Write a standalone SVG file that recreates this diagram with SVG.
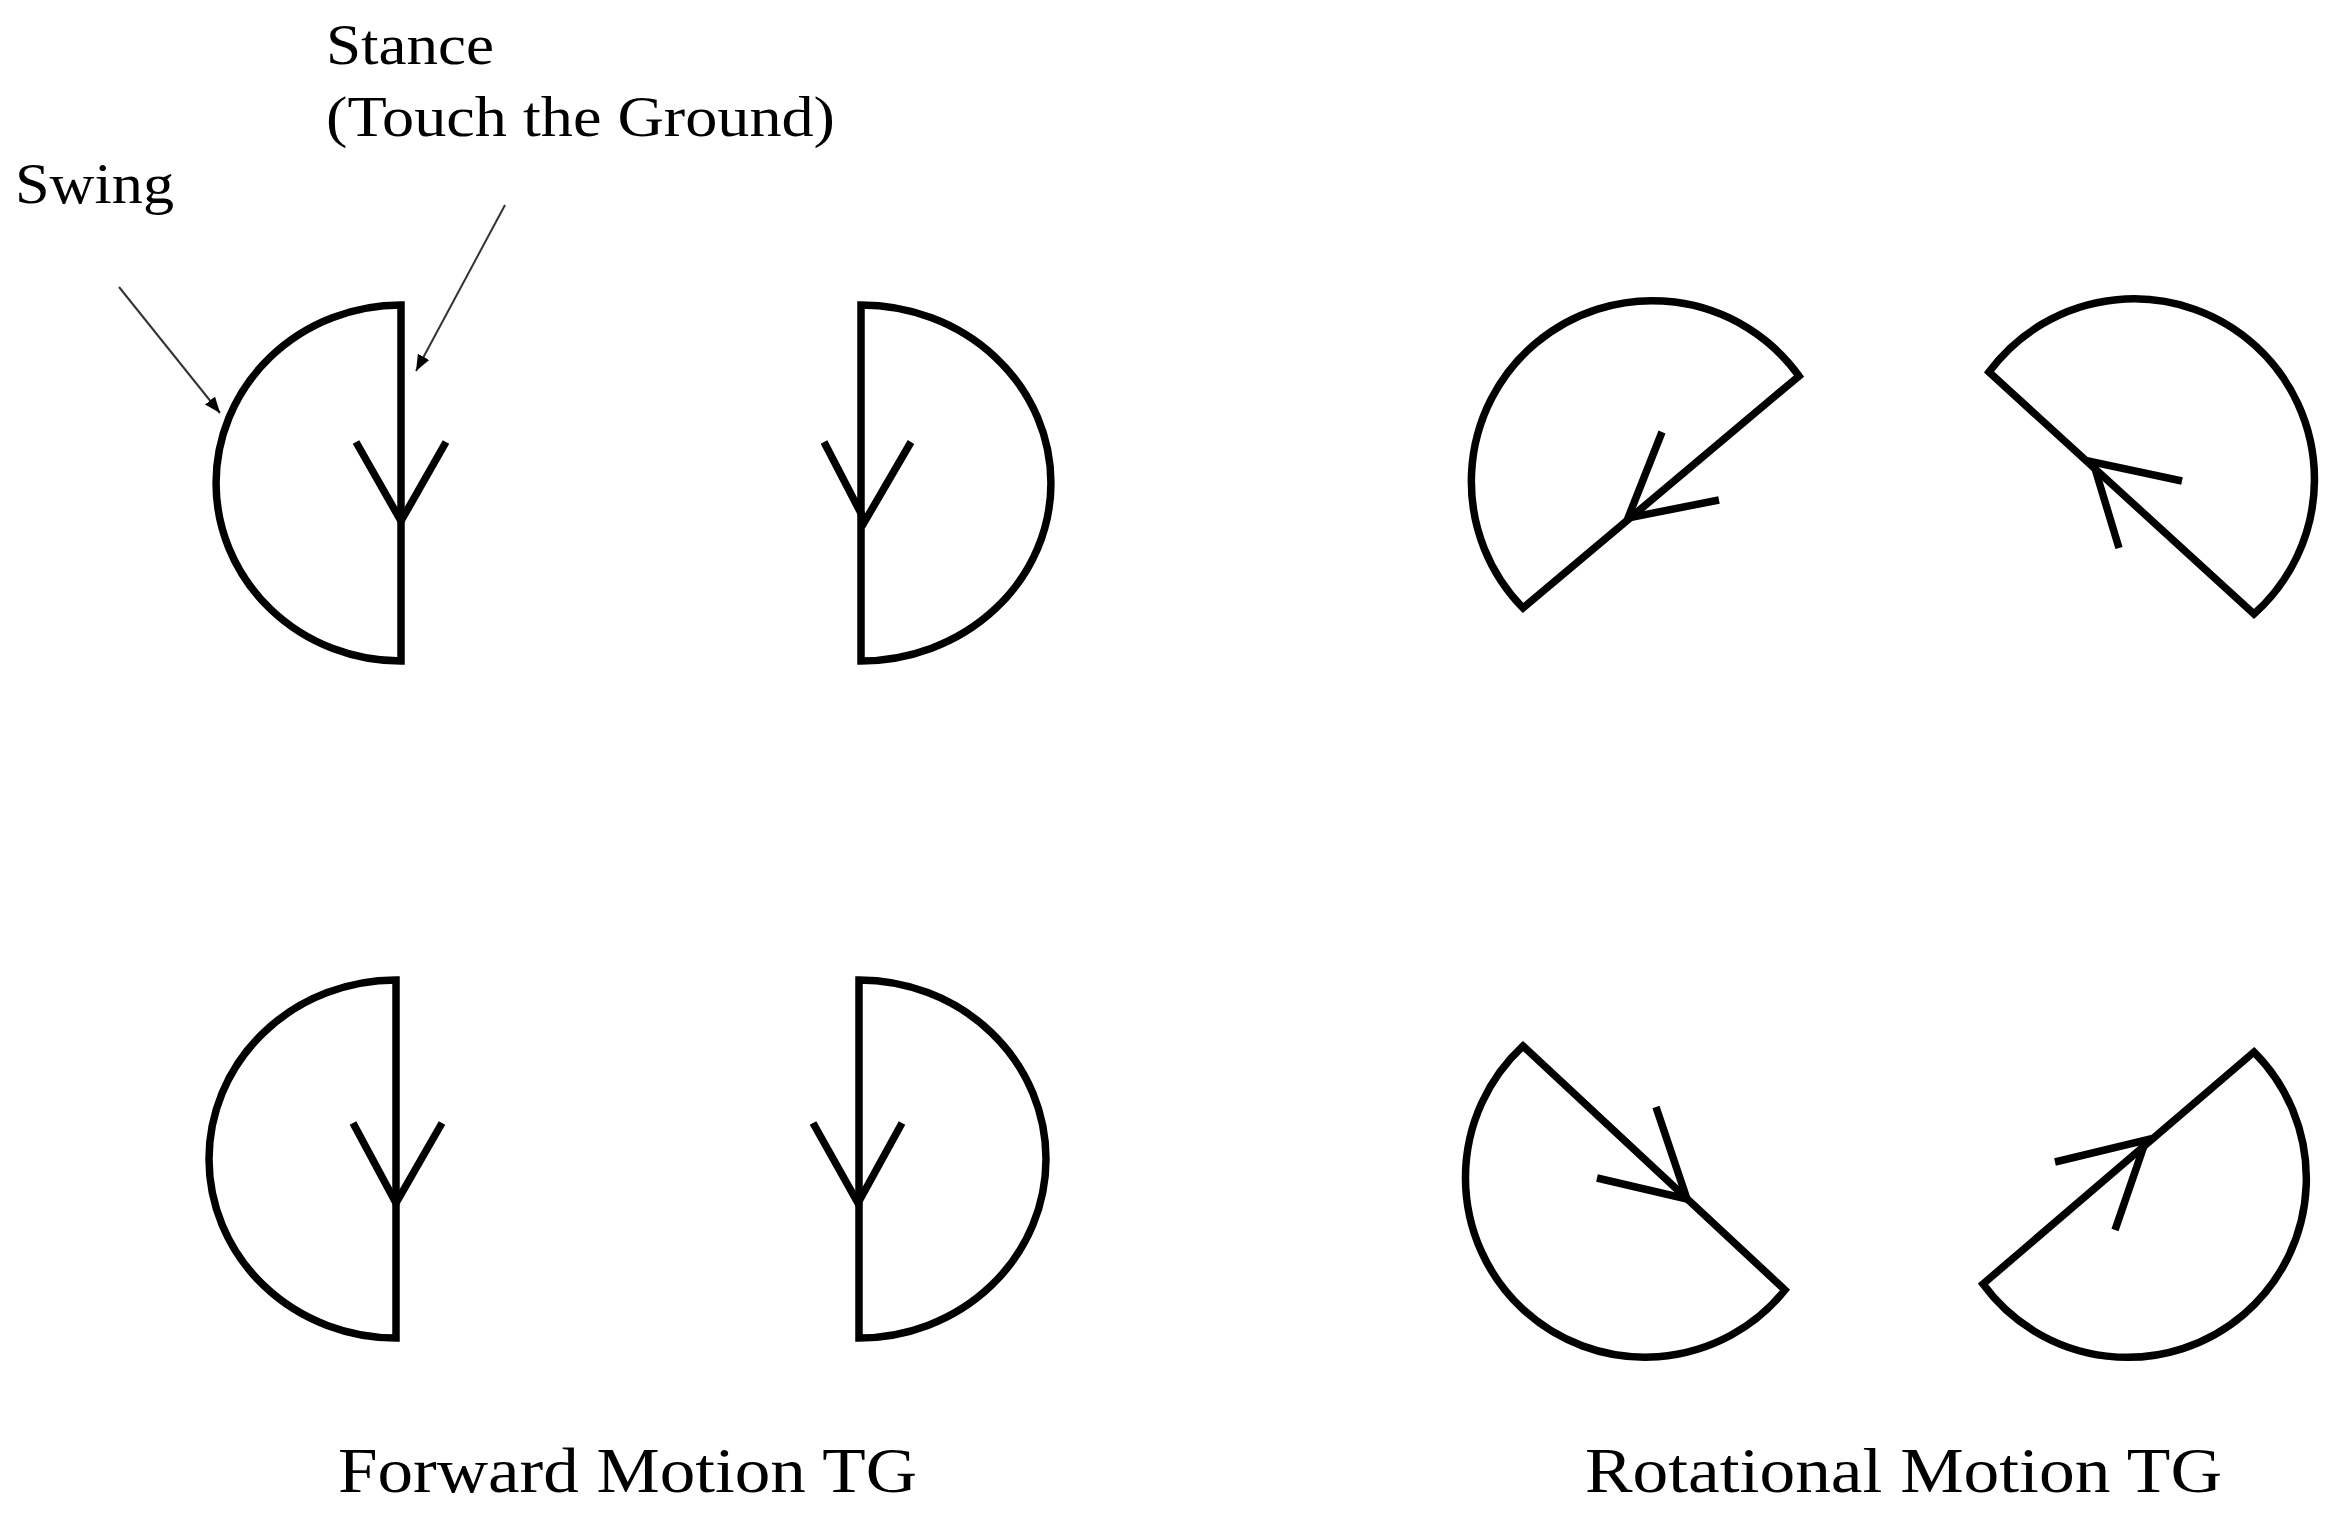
<svg xmlns="http://www.w3.org/2000/svg" width="2327" height="1521" viewBox="0 0 2327 1521">
<style>
.s{fill:none;stroke:#000;stroke-width:7.5;stroke-linejoin:miter}
.a{fill:none;stroke:#000;stroke-width:7.5}
.t{font-family:"Liberation Serif",serif;fill:#000}
.l{stroke:#333;stroke-width:2}
</style>
<defs>
<marker id="m2" viewBox="0 0 10 10" refX="10" refY="5" markerWidth="16" markerHeight="16" orient="auto" markerUnits="userSpaceOnUse"><path d="M0,1L10,5L0,9z" fill="#000"/></marker></defs>
<rect width="2327" height="1521" fill="#fff"/>
<g id="fwd1"><path class="s" d="M401,305A185,178 0 0 0 401,661Z"/><path class="a" d="M356,442L401,521L446,442"/></g>
<g id="fwd2"><path class="s" d="M861,305A190,178 0 0 1 861,661Z"/><path class="a" d="M824,442L865,521L911,442"/></g>
<g id="fwd3"><path class="s" d="M396,980A187,179 0 0 0 396,1338Z"/><path class="a" d="M353,1123L396,1203L442,1123"/></g>
<g id="fwd4"><path class="s" d="M859,980A187,179 0 0 1 859,1338Z"/><path class="a" d="M813,1123L858,1203L902,1123"/></g>
<g id="rot1"><path class="s" d="M1799,376A180.8,180.8 0 1 0 1523,608Z"/><path class="a" d="M1662,432L1628,518L1719,500"/></g>
<g id="rot2"><path class="s" d="M1989,372A180.4,180.4 0 1 1 2254,614Z"/><path class="a" d="M2182,481L2093,462L2119,548"/></g>
<g id="rot3"><path class="s" d="M1523,1046A179.5,179.5 0 1 0 1785,1290Z"/><path class="a" d="M1597,1178L1687,1199L1656,1107"/></g>
<g id="rot4"><path class="s" d="M2254,1052A178.9,178.9 0 1 1 1983,1284Z"/><path class="a" d="M2055,1162L2146,1140L2115,1230"/></g>
<g id="connectors">
<line class="l" x1="119" y1="287" x2="220" y2="413" marker-end="url(#m2)"/>
<line class="l" x1="505" y1="205" x2="416" y2="371" marker-end="url(#m2)"/>
</g>
<g id="labels">
<text class="t" x="15" y="203" font-size="58" textLength="159" lengthAdjust="spacingAndGlyphs">Swing</text>
<text class="t" x="326" y="64" font-size="58" textLength="168" lengthAdjust="spacingAndGlyphs">Stance</text>
<text class="t" x="326" y="136" font-size="58" textLength="509" lengthAdjust="spacingAndGlyphs">(Touch the Ground)</text>
<text class="t" x="338" y="1492" font-size="64" textLength="579" lengthAdjust="spacingAndGlyphs">Forward Motion TG</text>
<text class="t" x="1585" y="1492" font-size="64" textLength="637" lengthAdjust="spacingAndGlyphs">Rotational Motion TG</text>
</g>
</svg>
